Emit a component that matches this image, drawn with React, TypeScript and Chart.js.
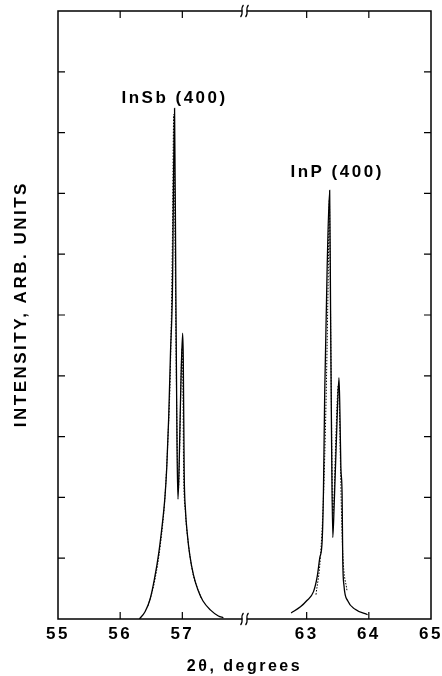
import React, { useEffect, useRef } from "react";
import { Chart, registerables } from "chart.js";

Chart.register(...registerables);

// ---- data (2θ in degrees, intensity in arbitrary units) ----
const xTickLabels = ["55", "56", "57", "", "63", "64", "65"];
const BREAK_AT = 58; // axis break between 58 and 62 degrees
const BREAK_SPAN = 4;

const insbSolidX = [56.31, 56.4, 56.48, 56.55, 56.62, 56.68, 56.72, 56.75, 56.78, 56.81, 56.84, 56.875, 56.895, 56.915, 56.93, 56.95, 56.975, 57.005, 57.015, 57.03, 57.05, 57.08, 57.12, 57.18, 57.25, 57.33, 57.45, 57.58, 57.66];
const insbSolidY = [0, 0.12, 0.32, 0.65, 1.08, 1.58, 2.0, 2.5, 3.3, 4.4, 5.35, 8.4, 5.5, 2.8, 1.97, 2.6, 3.8, 4.7, 4.3, 2.4, 1.8, 1.4, 1.05, 0.72, 0.48, 0.3, 0.15, 0.05, 0.02];

const insbDotX = [56.45, 56.55, 56.65, 56.72, 56.77, 56.81, 56.84, 56.862, 56.885, 56.91, 56.935, 56.955, 56.98, 56.995, 57.01, 57.02, 57.05, 57.09, 57.16, 57.3];
const insbDotY = [0.22, 0.6, 1.25, 2.0, 3.0, 4.2, 6.2, 8.3, 6.0, 3.4, 2.1, 2.7, 4.0, 4.45, 3.8, 2.5, 1.75, 1.3, 0.8, 0.35];

const inpSolidX = [62.75, 62.9, 63.0, 63.11, 63.17, 63.21, 63.25, 63.27, 63.29, 63.33, 63.37, 63.385, 63.4, 63.42, 63.44, 63.48, 63.52, 63.535, 63.55, 63.57, 63.58, 63.6, 63.66, 63.78, 63.98];
const inpSolidY = [0.1, 0.2, 0.3, 0.45, 0.7, 1.0, 1.3, 2.1, 3.7, 5.8, 7.05, 5.0, 3.0, 1.34, 1.8, 3.0, 3.97, 3.4, 2.5, 2.05, 1.0, 0.55, 0.3, 0.16, 0.07];

const inpDotX = [63.15, 63.22, 63.27, 63.31, 63.345, 63.365, 63.38, 63.4, 63.42, 63.44, 63.47, 63.51, 63.53, 63.55, 63.58, 63.65];
const inpDotY = [0.4, 1.0, 2.0, 3.5, 5.5, 6.9, 5.5, 3.3, 1.7, 2.0, 3.0, 3.85, 3.3, 2.2, 1.1, 0.45];

const peakLabels = ["InSb (400)", "InP (400)"];
const peakLabelX = [56.875, 63.49];
const peakLabelY = [8.57, 7.34];

const yMin = 0;
const yMax = 10;

// ---- helpers ----
const compress = (v: number) => (v >= BREAK_AT + BREAK_SPAN ? v - BREAK_SPAN : v);
const toPoints = (xs: number[], ys: number[]) => xs.map((v, i) => ({ x: compress(v), y: ys[i] }));

const FONT = "'Liberation Sans', Arial, Helvetica, sans-serif";
const SPACING = "2.5px";

const framePlugin = {
  id: "frame",
  beforeUpdate(chart: any) {
    chart.ctx.letterSpacing = SPACING;
  },
  beforeDraw(chart: any) {
    chart.ctx.letterSpacing = SPACING;
  },
  afterDatasetsDraw(chart: any) {
    const { ctx, chartArea: a, scales } = chart;
    const x = scales.x;
    const y = scales.y;
    ctx.save();
    ctx.strokeStyle = "#000";
    ctx.lineWidth = 1.5;
    ctx.strokeRect(a.left, a.top, a.right - a.left, a.bottom - a.top);

    const L = 7;
    ctx.lineWidth = 1.2;
    ctx.beginPath();
    y.ticks.forEach((t: any) => {
      if (t.value <= y.min || t.value >= y.max) return;
      const py = y.getPixelForValue(t.value);
      ctx.moveTo(a.left, py);
      ctx.lineTo(a.left + L, py);
      ctx.moveTo(a.right, py);
      ctx.lineTo(a.right - L, py);
    });
    x.ticks.forEach((t: any) => {
      if (t.value <= x.min || t.value >= x.max || t.value === BREAK_AT) return;
      const px = x.getPixelForValue(t.value);
      ctx.moveTo(px, a.bottom);
      ctx.lineTo(px, a.bottom - L);
      ctx.moveTo(px, a.top);
      ctx.lineTo(px, a.top + L);
    });
    ctx.stroke();

    // axis break marks
    const bx = x.getPixelForValue(BREAK_AT);
    [a.top, a.bottom].forEach((by: number) => {
      ctx.fillStyle = "#fff";
      ctx.fillRect(bx - 2, by - 2, 4, 4);
      ctx.beginPath();
      for (const dx of [-2.5, 2.5]) {
        ctx.moveTo(bx + dx - 1.5, by + 6);
        ctx.bezierCurveTo(bx + dx + 2.5, by + 2, bx + dx - 2.5, by - 2, bx + dx + 1.5, by - 6);
      }
      ctx.lineWidth = 1.2;
      ctx.stroke();
    });

    // peak labels
    ctx.fillStyle = "#000";
    ctx.font = `bold 17px ${FONT}`;
    ctx.letterSpacing = SPACING;
    ctx.textAlign = "center";
    ctx.textBaseline = "middle";
    peakLabels.forEach((s, i) => {
      ctx.fillText(s, x.getPixelForValue(compress(peakLabelX[i])), y.getPixelForValue(peakLabelY[i]));
    });
    ctx.restore();
  },
};

export default function App() {
  const ref = useRef<HTMLCanvasElement | null>(null);

  useEffect(() => {
    if (!ref.current) return;
    const solid = { borderColor: "#000", borderWidth: 1.3, pointRadius: 0, fill: false, cubicInterpolationMode: "monotone" as const };
    const dotted = { ...solid, borderWidth: 1, borderDash: [1.5, 1.5] };
    const chart = new Chart(ref.current, {
      type: "line",
      data: {
        datasets: [
          { ...solid, label: "InSb", data: toPoints(insbSolidX, insbSolidY) },
          { ...dotted, label: "InSb dotted", data: toPoints(insbDotX, insbDotY) },
          { ...solid, label: "InP", data: toPoints(inpSolidX, inpSolidY) },
          { ...dotted, label: "InP dotted", data: toPoints(inpDotX, inpDotY) },
        ],
      },
      options: {
        responsive: false,
        animation: false,
        devicePixelRatio: 1,
        layout: { padding: { top: 11, right: 11, left: 0, bottom: 0 } },
        plugins: { legend: { display: false }, tooltip: { enabled: false } },
        scales: {
          x: {
            type: "linear",
            min: 55,
            max: 61,
            grid: { display: false, drawTicks: false },
            border: { display: false },
            ticks: {
              stepSize: 1,
              padding: 5,
              color: "#000",
              font: { family: FONT, size: 17, weight: "bold" },
              maxRotation: 0,
              autoSkip: false,
              callback: (v: any) => xTickLabels[Math.round(Number(v) - 55)] ?? "",
            },
            title: {
              display: true,
              text: "2θ, degrees",
              color: "#000",
              font: { family: FONT, size: 16, weight: "bold" },
              padding: { top: 0, bottom: 0 },
            },
            afterFit: (s: any) => {
              s.height = 57;
              s.paddingLeft = 0;
              s.paddingRight = 0;
            },
          },
          y: {
            type: "linear",
            min: yMin,
            max: yMax,
            grid: { display: false, drawTicks: false },
            border: { display: false },
            ticks: { stepSize: 1, display: false },
            title: {
              display: true,
              text: "   INTENSITY, ARB. UNITS",
              color: "#000",
              font: { family: FONT, size: 17, weight: "bold" },
              padding: { top: 11, bottom: 0 },
            },
            afterFit: (s: any) => {
              s.width = 58;
              s.paddingTop = 0;
              s.paddingBottom = 0;
            },
          },
        },
      },
      plugins: [framePlugin],
    });
    return () => chart.destroy();
  }, []);

  return (
    <div style={{ position: "absolute", left: 0, top: 0, width: 442, height: 676, background: "#fff" }}>
      <canvas ref={ref} width={442} height={676} />
    </div>
  );
}
